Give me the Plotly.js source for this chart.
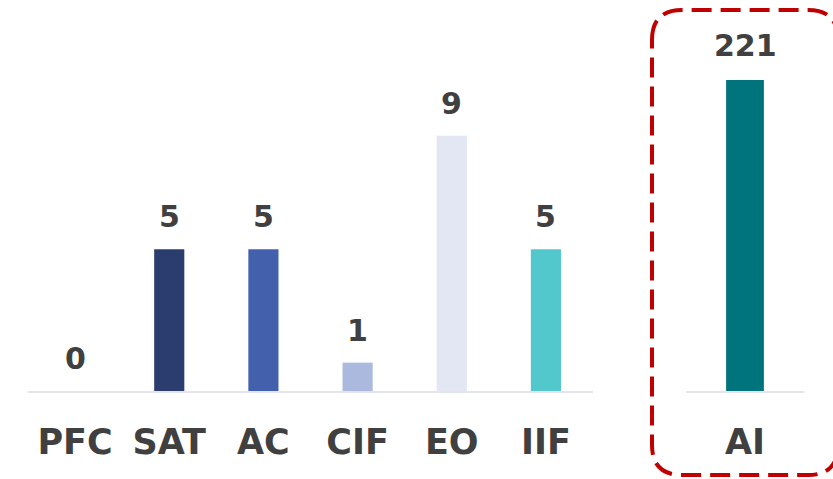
<!DOCTYPE html>
<html>
<head>
<meta charset="utf-8">
<script src="https://cdn.plot.ly/plotly-3.0.1.min.js"></script>
<style>html,body{margin:0;padding:0;background:#fff;}#chart{width:833px;height:479px;}</style>
</head>
<body>
<div id="chart"></div>
<script>
// ---- data ----
var leftCategories = ["PFC", "SAT", "AC", "CIF", "EO", "IIF"];
var leftValues = [0, 5, 5, 1, 9, 5];
var leftColors = ["#2b3d6e", "#2b3d6e", "#4260ab", "#abb9df", "#e3e6f3", "#52c8cc"];
var rightCategories = ["AI"];
var rightValues = [221];
var rightColors = ["#00747c"];

// ---- layout helpers ----
var W = 833, H = 479;
var FONT = "DejaVu Sans, Verdana, sans-serif";
var TXT = "#404040";
function px(x){ return (x / W).toFixed(5); }
function py(y){ return (1 - y / H).toFixed(5); }

var baseY = 391;
var yDom = [1 - baseY / H, 1];

var traces = [
  {type: "bar", x: leftCategories, y: leftValues, xaxis: "x", yaxis: "y",
   marker: {color: leftColors}, width: 0.32, hoverinfo: "none"},
  {type: "bar", x: rightCategories, y: rightValues, xaxis: "x2", yaxis: "y2",
   marker: {color: rightColors}, width: 0.32, hoverinfo: "none"}
];

var annotations = [];
leftCategories.forEach(function(c, i){
  annotations.push({x: c, y: leftValues[i], xref: "x", yref: "y", text: String(leftValues[i]),
    showarrow: false, yanchor: "bottom", yshift: 13,
    font: {family: FONT, size: 30, color: TXT, weight: "bold"}});
});
rightCategories.forEach(function(c, i){
  annotations.push({x: c, y: rightValues[i], xref: "x2", yref: "y2", text: String(rightValues[i]),
    showarrow: false, yanchor: "bottom", yshift: 15,
    font: {family: FONT, size: 30, color: TXT, weight: "bold"}});
});

// rounded dashed frame (pixel coords -> paper coords)
var L = 652, R = 838, T = 10, B = 475, r = 30;
var path = "M " + px(L) + "," + py(T + r) +
  " Q " + px(L) + "," + py(T) + " " + px(L + r) + "," + py(T) +
  " L " + px(R - r) + "," + py(T) +
  " Q " + px(R) + "," + py(T) + " " + px(R) + "," + py(T + r) +
  " L " + px(R) + "," + py(B - r) +
  " Q " + px(R) + "," + py(B) + " " + px(R - r) + "," + py(B) +
  " L " + px(L + r) + "," + py(B) +
  " Q " + px(L) + "," + py(B) + " " + px(L) + "," + py(B - r) + " Z";

var xAxisCommon = {
  type: "category", showline: true, linecolor: "#e4e4ec", linewidth: 2,
  ticks: "", showgrid: false, zeroline: false, ticklabelstandoff: 19,
  tickfont: {family: FONT, size: 35, color: TXT, weight: "bold"}, fixedrange: true
};
var yAxisCommon = {showgrid: false, zeroline: false, showticklabels: false, showline: false,
  ticks: "", fixedrange: true, domain: yDom};

var layout = {
  width: W, height: H,
  margin: {l: 0, r: 0, t: 0, b: 0},
  paper_bgcolor: "#ffffff", plot_bgcolor: "#ffffff",
  showlegend: false, hovermode: false, bargap: 0.68,
  xaxis: Object.assign({}, xAxisCommon, {domain: [28 / W, 593 / W], range: [-0.5, 5.5], anchor: "y"}),
  yaxis: Object.assign({}, yAxisCommon, {range: [0, baseY / 28.35], anchor: "x"}),
  xaxis2: Object.assign({}, xAxisCommon, {domain: [686 / W, 804 / W], range: [-0.5, 0.5], anchor: "y2"}),
  yaxis2: Object.assign({}, yAxisCommon, {range: [0, baseY / 1.407], anchor: "x2"}),
  annotations: annotations,
  shapes: [{type: "path", xref: "paper", yref: "paper", path: path,
    line: {color: "#c00000", width: 4, dash: "20px,9px"}, fillcolor: "rgba(0,0,0,0)"}]
};

Plotly.newPlot("chart", traces, layout, {displayModeBar: false, staticPlot: true});
</script>
</body>
</html>
